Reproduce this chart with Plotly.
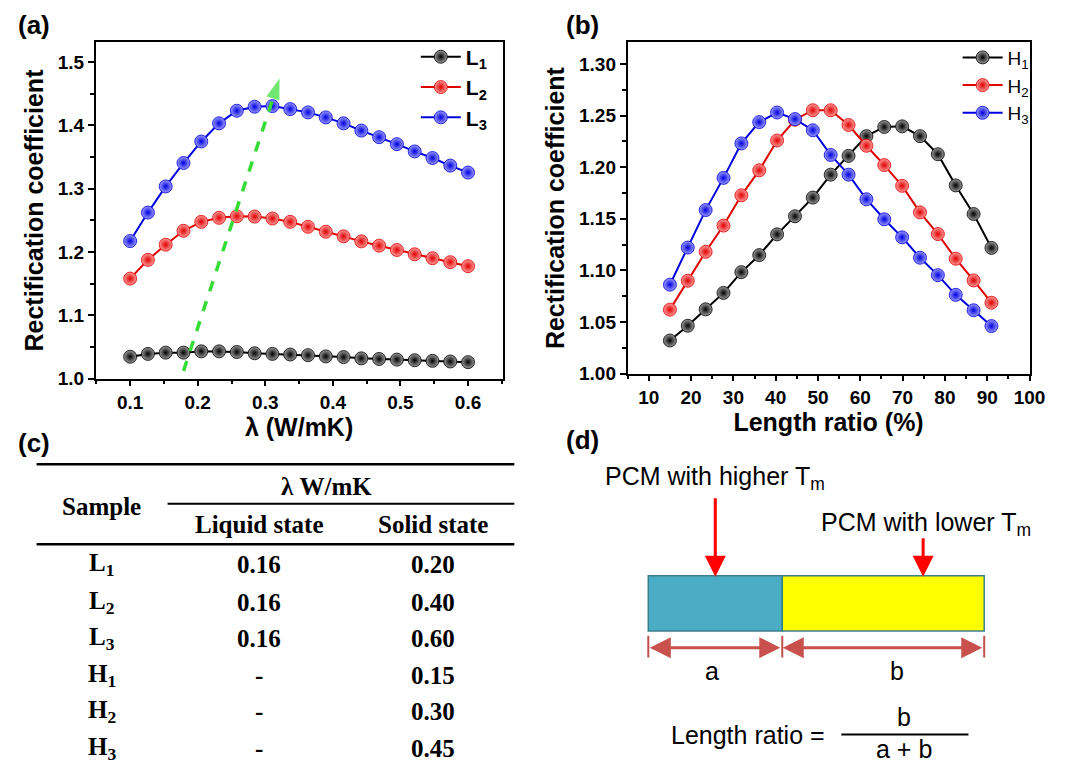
import plotly.graph_objects as go

# ---------------- data ----------------
lam = [0.1 + i * 0.5 / 19 for i in range(20)]
L1 = [1.0345, 1.039, 1.041, 1.041, 1.043, 1.043, 1.042, 1.040, 1.039, 1.038,
      1.037, 1.035, 1.034, 1.032, 1.031, 1.030, 1.029, 1.028, 1.027, 1.026]
L2 = [1.158, 1.1876, 1.2116, 1.2335, 1.2476, 1.254, 1.2565, 1.256, 1.2529, 1.2476,
      1.2398, 1.232, 1.2247, 1.2168, 1.210, 1.2032, 1.1964, 1.1902, 1.1839, 1.1776]
L3 = [1.2173, 1.2623, 1.3036, 1.3406, 1.3746, 1.4033, 1.4232, 1.4295, 1.4305, 1.4258,
      1.4206, 1.4127, 1.4033, 1.3918, 1.3814, 1.3704, 1.3589, 1.3485, 1.3365, 1.3255]

ratio = [15 + i * 76 / 18 for i in range(19)]
H1 = [1.0321, 1.0464, 1.0623, 1.0782, 1.0983, 1.1148, 1.1349, 1.1524, 1.1705, 1.1927,
      1.2109, 1.2300, 1.2389, 1.2395, 1.2300, 1.2125, 1.1823, 1.1546, 1.1218]
H2 = [1.062, 1.090, 1.118, 1.1434, 1.1727, 1.1969, 1.2258, 1.2459, 1.2551, 1.2551,
      1.2408, 1.2207, 1.2020, 1.1819, 1.1562, 1.1352, 1.1113, 1.0903, 1.0687]
H3 = [1.0862, 1.1221, 1.1584, 1.1896, 1.2230, 1.2436, 1.2529, 1.2465, 1.2357, 1.2118,
      1.1927, 1.1689, 1.1495, 1.1320, 1.1123, 1.0954, 1.0763, 1.0614, 1.0461]

trend_x = [0.179, 0.321]
trend_y = [1.012, 1.474]

tbl_samples = ["L<sub>1</sub>", "L<sub>2</sub>", "L<sub>3</sub>",
               "H<sub>1</sub>", "H<sub>2</sub>", "H<sub>3</sub>"]
tbl_liquid = ["0.16", "0.16", "0.16", "-", "-", "-"]
tbl_solid = ["0.20", "0.40", "0.60", "0.15", "0.30", "0.45"]

series_colors = ["#000000", "#E00000", "#0000E0"]
light_colors = ["#9a9a9a", "#ff9a9a", "#9a9aff"]

W, H = 1072, 764
def X(p):
    return p / W
def Y(p):
    return 1 - p / H

SANS = "Liberation Sans, Arial, sans-serif"
SERIF = "Liberation Serif, Times New Roman, serif"

fig = go.Figure()

def add_series(x, y, name, i, xa, ya, legend):
    fig.add_trace(go.Scatter(
        x=x, y=y, name=name, mode="lines+markers", xaxis=xa, yaxis=ya, legend=legend,
        line=dict(color=series_colors[i], width=2),
        marker=dict(size=13, color=light_colors[i],
                    gradient=dict(type="radial", color=series_colors[i]),
                    line=dict(width=0.8, color=series_colors[i]))))

for i, (yy, nm) in enumerate(zip([L1, L2, L3], ["L<sub>1</sub>", "L<sub>2</sub>", "L<sub>3</sub>"])):
    add_series(lam, yy, nm, i, "x", "y", "legend")
for i, (yy, nm) in enumerate(zip([H1, H2, H3], ["H<sub>1</sub>", "H<sub>2</sub>", "H<sub>3</sub>"])):
    add_series(ratio, yy, nm, i, "x2", "y2", "legend2")

# green dashed trend arrow
fig.add_trace(go.Scatter(
    x=trend_x, y=trend_y, mode="lines+markers", showlegend=False, xaxis="x", yaxis="y",
    line=dict(color="#33DD33", width=3.5, dash="dash"),
    marker=dict(symbol=["circle", "arrow"], size=[0, 22], angleref="previous",
                color="#33DD33", line=dict(width=0))))

axis_common = dict(
    showline=True, linecolor="black", linewidth=1.6, mirror=True,
    ticks="outside", ticklen=6, tickwidth=1.5, tickcolor="black",
    showgrid=False, zeroline=False,
    tickfont=dict(family=SANS, size=19, color="black", weight="bold"),
    title_font=dict(family=SANS, size=25, color="black", weight="bold"),
)

fig.update_layout(
    width=W, height=H, margin=dict(l=0, r=0, t=0, b=0),
    paper_bgcolor="white", plot_bgcolor="white",
    xaxis=dict(domain=[X(89), X(502)], range=[0.049, 0.651], anchor="y",
               tickvals=[0.1, 0.2, 0.3, 0.4, 0.5, 0.6],
               minor=dict(ticks="outside", ticklen=4, tickcolor="black", dtick=0.05, tick0=0.05),
               title=dict(text="λ (W/mK)", standoff=5), **axis_common),
    yaxis=dict(domain=[Y(376), Y(35)], range=[1.0, 1.531], anchor="x",
               tickvals=[1.0, 1.1, 1.2, 1.3, 1.4, 1.5], tickformat=".1f",
               minor=dict(ticks="outside", ticklen=4, tickcolor="black", dtick=0.05, tick0=1.05),
               title=dict(text="Rectification coefficient", standoff=7), **axis_common),
    xaxis2=dict(domain=[X(629), X(1037)], range=[5, 100], anchor="y2",
                tickvals=[10, 20, 30, 40, 50, 60, 70, 80, 90, 100],
                minor=dict(ticks="outside", ticklen=4, tickcolor="black", dtick=5, tick0=5),
                title=dict(text="Length ratio (%)", standoff=5), **axis_common),
    yaxis2=dict(domain=[Y(371), Y(35)], range=[1.0, 1.3207], anchor="x2",
                tickvals=[1.0, 1.05, 1.1, 1.15, 1.2, 1.25, 1.3], tickformat=".2f",
                minor=dict(ticks="outside", ticklen=4, tickcolor="black", dtick=0.025, tick0=1.025),
                title=dict(text="Rectification coefficient", standoff=7), **axis_common),
    legend=dict(x=X(414), y=Y(29), xanchor="left", yanchor="top", bgcolor="rgba(0,0,0,0)",
                font=dict(family=SANS, size=21, color="black", weight="bold"),
                itemwidth=40, tracegroupgap=0),
    legend2=dict(x=X(964), y=Y(31), xanchor="left", yanchor="top", bgcolor="rgba(0,0,0,0)",
                 font=dict(family=SANS, size=19, color="black"),
                 itemwidth=40, tracegroupgap=0),
    showlegend=True,
)

ann = []
shapes = []

# panel labels
for txt, px, py in [("(a)", 8, 17), ("(b)", 564, 17), ("(c)", 8, 441), ("(d)", 564, 438)]:
    ann.append(dict(text=f"<b>{txt}</b>", x=X(px), y=Y(py), xref="paper", yref="paper",
                    xanchor="left", yanchor="middle", showarrow=False,
                    font=dict(family=SANS, size=26, color="black")))

# ---------------- table (c) ----------------
shapes += [
    dict(type="line", xref="paper", yref="paper", x0=X(29), x1=X(514), y0=Y(463), y1=Y(463),
         line=dict(color="black", width=2.5)),
    dict(type="line", xref="paper", yref="paper", x0=X(162), x1=X(514), y0=Y(503), y1=Y(503),
         line=dict(color="black", width=2)),
    dict(type="line", xref="paper", yref="paper", x0=X(29), x1=X(514), y0=Y(544), y1=Y(544),
         line=dict(color="black", width=2.5)),
]
tfont = dict(family=SERIF, size=25, color="black")
def tann(text, px, py):
    ann.append(dict(text=f"<b>{text}</b>", x=X(px), y=Y(py), xref="paper", yref="paper",
                    xanchor="center", yanchor="middle", showarrow=False, font=tfont))
tann("Sample", 95, 506)
tann("λ W/mK", 323, 485)
tann("Liquid state", 255, 524)
tann("Solid state", 431, 524)
row_y = [565, 603, 640, 677, 714, 751]
for s, lq, so, ry in zip(tbl_samples, tbl_liquid, tbl_solid, row_y):
    tann(s, 95, ry)
    tann(lq, 255, ry)
    tann(so, 431, ry)

# ---------------- schematic (d) ----------------
shapes += [
    dict(type="rect", xref="paper", yref="paper", x0=X(650), x1=X(786), y0=Y(632), y1=Y(576),
         fillcolor="#4BACC6", line=dict(color="#3C7F8C", width=1.5)),
    dict(type="rect", xref="paper", yref="paper", x0=X(786), x1=X(991), y0=Y(632), y1=Y(576),
         fillcolor="#FFFF00", line=dict(color="#3C7F8C", width=1.5)),
]
for tx in [650, 786, 991]:
    shapes.append(dict(type="line", xref="paper", yref="paper", x0=X(tx), x1=X(tx),
                       y0=Y(637), y1=Y(659), line=dict(color="#C0504D", width=2)))
dim = "#C8504D"
ann.append(dict(x=X(784), y=Y(649), ax=-132, ay=0, xref="paper", yref="paper",
                text="", showarrow=True, arrowhead=2, startarrowhead=2, arrowside="end+start",
                arrowsize=1.4, startarrowsize=1.4, arrowwidth=3, arrowcolor=dim))
ann.append(dict(x=X(989), y=Y(649), ax=-201, ay=0, xref="paper", yref="paper",
                text="", showarrow=True, arrowhead=2, startarrowhead=2, arrowside="end+start",
                arrowsize=1.4, startarrowsize=1.4, arrowwidth=3, arrowcolor=dim))
ann.append(dict(x=X(718), y=Y(577), ax=0, ay=-80, xref="paper", yref="paper",
                text="", showarrow=True, arrowhead=2, arrowsize=1.4, arrowwidth=3, arrowcolor="#FF0000"))
ann.append(dict(x=X(929), y=Y(577), ax=0, ay=-40, xref="paper", yref="paper",
                text="", showarrow=True, arrowhead=2, arrowsize=1.4, arrowwidth=3, arrowcolor="#FF0000"))
dfont = dict(family=SANS, size=25, color="black")
def dann(text, px, py, xa="center"):
    ann.append(dict(text=text, x=X(px), y=Y(py), xref="paper", yref="paper",
                    xanchor=xa, yanchor="middle", showarrow=False, font=dfont))
dann("PCM with higher T<sub>m</sub>", 718, 477)
dann("PCM with lower T<sub>m</sub>", 932, 524)
dann("a", 715, 673)
dann("b", 902, 673)
dann("Length ratio =", 751, 738)
dann("b", 910, 719)
dann("a + b", 910, 752)
shapes.append(dict(type="line", xref="paper", yref="paper", x0=X(846), x1=X(975),
                   y0=Y(737), y1=Y(737), line=dict(color="black", width=2)))

fig.update_layout(annotations=ann, shapes=shapes)
fig.write_html("out.html")
